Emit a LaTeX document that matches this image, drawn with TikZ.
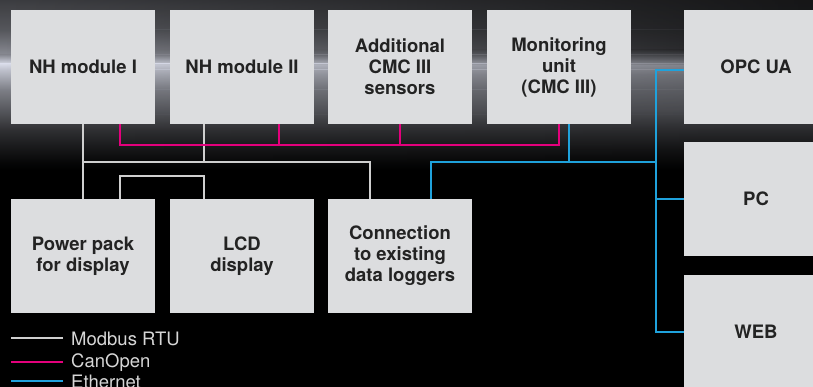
\documentclass[tikz,border=0pt]{standalone}
\usepackage{fontspec}
\setmainfont{TeX Gyre Heros}
\usetikzlibrary{fadings}
\definecolor{boxgray}{HTML}{DCDDDF}
\definecolor{boxtext}{HTML}{232323}
\definecolor{cmodbus}{HTML}{CFCFCF}
\definecolor{ccanopen}{HTML}{E4007C}
\definecolor{cethernet}{HTML}{1FA2DC}
\definecolor{legtext}{HTML}{D6D6D6}
\definecolor{bgtone}{HTML}{D8DBE8}
\tikzfading[name=fadeleft, left color=transparent!0, middle color=transparent!65, right color=transparent!100]

\begin{document}
\begin{tikzpicture}[x=1pt,y=-1pt,
  box/.style={fill=boxgray,text=boxtext,minimum width=144pt,minimum height=114pt,inner sep=0pt,
    align=center,font=\fontsize{18.5}{21}\selectfont\bfseries},
  legend/.style={inner sep=0pt,text=legtext,font=\fontsize{18.5}{20}\selectfont},
  modbus/.style={draw=cmodbus,line width=2pt},
  canopen/.style={draw=ccanopen,line width=2pt},
  ethernet/.style={draw=cethernet,line width=2pt}]
  \path[use as bounding box,clip] (0,0) rectangle (813,387);
  \fill[black] (0,0) rectangle (813,387);
  \foreach \ya/\yb/\pa/\pb in {0/50/10/12,50/60/12/36,60/66/36/52,66/75/52/44,75/110/44/32,
      110/130/32/19,130/150/19/8,150/170/8/0}
    \shade[top color=bgtone!\pa!black,bottom color=bgtone!\pb!black] (0,\ya) rectangle (813,\yb);
  \foreach \ya/\yb/\pa/\pb in {0/30/28/40,30/55/40/64,55/64/64/100,64/70/100/88,70/90/88/58,
      90/115/58/36,115/130/36/22,130/145/22/13,145/165/13/2,165/170/2/0}
    \shade[top color=bgtone!\pa!black,bottom color=bgtone!\pb!black,path fading=fadeleft]
      (0,\ya) rectangle (813,\yb);

  \node[box] (n00) at (83,67) {NH module I};
  \node[box] (n01) at (242,67) {NH module II};
  \node[box] (n02) at (400,67) {Additional\\CMC III\\sensors};
  \node[box] (n03) at (559,67) {Monitoring\\unit\\(CMC III)};
  \node[box] (n10) at (83,256) {Power pack\\for display};
  \node[box] (n11) at (242,256) {LCD\\display};
  \node[box] (n12) at (400,256) {Connection\\to existing\\data loggers};
  \node[box] (n20) at (756,67) {OPC UA};
  \node[box] (n21) at (756,199) {PC};
  \node[box] (n22) at (756,332) {WEB};

  \coordinate (mb0) at (83,162);
  \coordinate (mb1) at (370,162);
  \coordinate (mb2) at (120,176);
  \coordinate (co0) at (120,145);
  \coordinate (co1) at (559,145);
  \coordinate (et0) at (431,162);
  \coordinate (et1) at (656,162);

  \path[modbus] (n00) edge (n10);
  \draw[modbus] (mb0) -- (mb1) -- (mb1 |- n12.north);
  \draw[modbus] ([xshift=-38pt]n01.south) -- ([xshift=-38pt]n01.south |- mb0);
  \draw[modbus] (mb2 |- n10.north) |- ([xshift=-38pt]n11.north |- mb2) -- ([xshift=-38pt]n11.north);

  \draw[canopen] (co0 |- n00.south) |- (co1) -- (n03.south);
  \draw[canopen] ([xshift=37pt]n01.south) -- ([xshift=37pt]n01.south |- co0);
  \draw[canopen] (n02.south) -- (n02.south |- co0);

  \draw[ethernet] ([xshift=10pt]n03.south) -- ([xshift=10pt]n03.south |- et0);
  \draw[ethernet] (et0 |- n12.north) |- (et1);
  \draw[ethernet] ([yshift=-3pt]n20.west) -| (et1 |- n22.west) -- (n22.west);
  \draw[ethernet] (n21.west) -- (n21.west -| et1);

  \node[legend,anchor=base west] (l0) at (71,345) {Modbus RTU};
  \node[legend,anchor=base west] (l1) at (71,367) {CanOpen};
  \node[legend,anchor=base west] (l2) at (71,388) {Ethernet};
  \draw[modbus] ([xshift=-8pt]l0.west) -- ++(-52,0);
  \draw[canopen] ([xshift=-8pt]l1.west) -- ++(-52,0);
  \draw[ethernet] ([xshift=-8pt]l2.west) -- ++(-52,0);
\end{tikzpicture}
\end{document}
